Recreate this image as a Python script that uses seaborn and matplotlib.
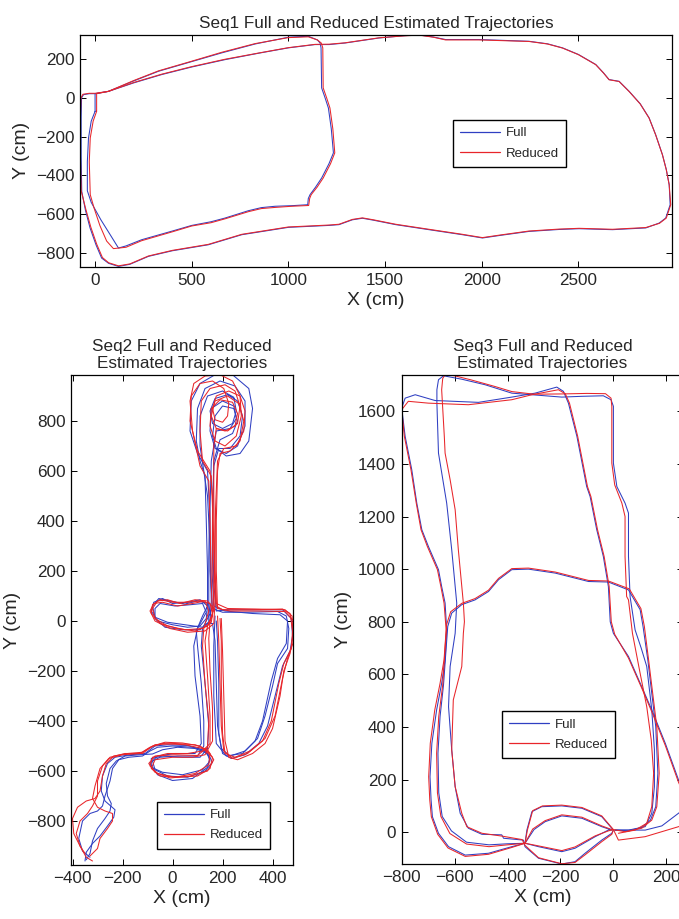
import pandas as pd
import seaborn as sns
import matplotlib.pyplot as plt
from matplotlib.lines import Line2D

# ---- data: trajectory waypoints (cm) ----
seq1_full_inner = [(0,-69),(0,22),(69,34),(200,88),(328,138),(500,188),(655,233),(828,279),(1000,314),(1103,319),(1150,300),(1164,284),(1169,259),(1172,52),(1190,0),(1207,-52),(1222,-160),(1233,-284),(1210,-340),(1172,-414),(1140,-462),(1112,-500),(1103,-520),(1100,-552),(1017,-557),(931,-560),(860,-567),(793,-583),(672,-621),(600,-640),(500,-659),(400,-688),(241,-733),(160,-765),(121,-776),(80,-710),(30,-630),(-20,-540),(-40,-480),(-40,-330),(-34,-207),(-20,-120),(0,-69)]
seq1_full_outer = [(69,34),(200,78),(345,121),(500,160),(672,198),(850,232),(1000,259),(1138,276),(1211,276),(1293,284),(1469,310),(1600,322),(1675,326),(1750,315),(1813,302),(1986,302),(2245,293),(2340,280),(2418,259),(2500,225),(2590,173),(2630,130),(2659,95),(2711,86),(2763,34),(2820,-30),(2866,-103),(2900,-190),(2935,-293),(2955,-370),(2970,-448),(2975,-552),(2952,-621),(2918,-647),(2849,-672),(2677,-681),(2504,-676),(2400,-680),(2245,-690),(2100,-710),(2004,-724),(1900,-707),(1727,-681),(1555,-655),(1440,-632),(1383,-622),(1331,-630),(1262,-655),(1211,-659),(1000,-669),(759,-707),(586,-759),(400,-790),(276,-819),(180,-860),(121,-871),(70,-855),(34,-828),(5,-760),(-26,-672),(-50,-580),(-69,-483),(-72,-300),(-72,-100),(-70,0),(-60,17),(-30,22),(0,22),(69,34)]
seq1_red_inner = [(8,-69),(8,22),(69,34),(200,90),(328,140),(500,190),(655,236),(828,281),(1000,312),(1103,316),(1150,300),(1170,284),(1178,259),(1180,52),(1198,0),(1215,-52),(1230,-160),(1240,-284),(1218,-340),(1180,-414),(1148,-462),(1118,-500),(1110,-520),(1105,-556),(1017,-560),(931,-566),(860,-572),(793,-588),(672,-625),(600,-645),(500,-662),(400,-692),(241,-738),(160,-772),(95,-779),(60,-740),(25,-660),(-5,-570),(-25,-500),(-30,-330),(-25,-207),(-10,-120),(8,-69)]
seq1_red_outer = [(69,34),(200,80),(345,123),(500,162),(672,200),(850,233),(1000,260),(1138,277),(1211,278),(1293,285),(1469,311),(1600,321),(1675,325),(1750,314),(1813,300),(1986,300),(2245,292),(2340,279),(2418,258),(2500,224),(2590,172),(2630,129),(2659,94),(2711,85),(2763,33),(2820,-31),(2866,-104),(2900,-191),(2935,-294),(2955,-371),(2970,-449),(2978,-552),(2955,-621),(2920,-648),(2849,-670),(2677,-679),(2504,-674),(2400,-678),(2245,-688),(2100,-708),(2004,-722),(1900,-705),(1727,-679),(1555,-653),(1440,-630),(1383,-620),(1331,-628),(1262,-653),(1211,-657),(1000,-667),(759,-705),(586,-757),(400,-788),(276,-817),(180,-858),(121,-868),(70,-852),(38,-825),(8,-755),(-22,-668),(-48,-575),(-72,-480),(-76,-300),(-76,-100),(-73,0),(-63,19),(-30,24),(0,24),(69,34)]

seq2_full_lap1 = [(-345,-955),(-330,-930),(-320,-880),(-300,-830),(-270,-790),(-250,-760),(-245,-730),(-260,-700),(-265,-650),(-250,-590),(-225,-560),(-190,-540),(-130,-535),(-80,-532),(-40,-515),(20,-505),(90,-510),(140,-530),(160,-565),(130,-600),(60,-625),(-20,-620),(-70,-595),(-80,-560),(-50,-545),(20,-540),(100,-540),(125,-500),(125,-400),(115,-250),(100,-100),(95,-40),(120,20),(140,60),(110,85),(60,75),(0,70),(-40,90),(-75,75),(-85,40),(-60,0),(0,-15),(60,-25),(110,-20),(135,10),(140,60),(140,200),(135,400),(130,580),(110,640),(95,720),(100,850),(130,930),(190,960),(250,940),(290,880),(290,780),(260,700),(215,670),(170,690),(150,760),(155,850),(200,880),(245,860),(255,810),(230,770),(175,760),(155,640),(150,450),(150,200),(160,50),(200,35),(300,35),(420,38),(455,20),(465,-30),(460,-110),(420,-170),(400,-260),(370,-380),(340,-470),(290,-520),(230,-540),(195,-510),(180,-420),(175,-250),(170,-80),(160,-10),(140,-10)]
seq2_full_lap2 = [(-330,-945),(-360,-920),(-375,-870),(-360,-800),(-330,-770),(-300,-760),(-280,-740),(-270,-700),(-250,-640),(-240,-590),(-215,-555),(-175,-545),(-120,-540),(-90,-520),(-60,-505),(0,-500),(80,-505),(135,-520),(150,-560),(120,-595),(40,-615),(-40,-605),(-85,-585),(-85,-550),(-40,-540),(40,-545),(110,-545),(140,-510),(145,-420),(130,-250),(115,-100),(120,-30),(150,30),(145,70),(100,80),(50,68),(-10,80),(-55,90),(-80,60),(-70,15),(-20,-5),(50,-15),(120,-25),(150,0),(155,80),(150,300),(140,500),(125,600),(110,700),(110,820),(140,900),(200,920),(245,895),(255,840),(240,790),(200,770),(160,790),(150,840),(170,890),(220,905),(260,880),(280,820),(270,740),(230,690),(185,690),(165,620),(160,400),(165,150),(175,40),(220,45),(330,45),(440,45),(475,10),(480,-60),(470,-120),(440,-180),(415,-280),(380,-420),(345,-490),(290,-535),(235,-550),(200,-530),(185,-450),(185,-250),(180,-80),(175,0)]
seq2_full_lap3 = [(-350,-960),(-345,-925),(-320,-890),(-290,-860),(-260,-820),(-235,-785),(-230,-755),(-270,-720),(-285,-680),(-280,-620),(-260,-570),(-230,-545),(-170,-535),(-110,-530),(-70,-500),(-20,-495),(60,-498),(120,-515),(150,-545),(140,-585),(80,-630),(0,-638),(-60,-615),(-90,-570),(-60,-540),(10,-530),(90,-530),(115,-490),(110,-380),(90,-220),(85,-100),(100,-30),(135,35),(120,70),(70,65),(10,60),(-50,70),(-70,50),(-70,10),(-30,-25),(40,-35),(110,-35),(145,-5),(145,60),(145,250),(148,450),(140,600),(100,670),(70,760),(75,880),(110,950),(170,985),(240,985),(305,930),(320,850),(305,720),(270,670),(215,660),(175,690),(160,740),(170,820),(200,860),(245,850),(260,800),(240,750),(190,725),(165,640),(160,420),(158,200),(165,60),(210,40),(320,30),(430,25),(460,0),(455,-90),(420,-150),(395,-240),(360,-400),(330,-480),(280,-530),(215,-540),(175,-490),(165,-300),(165,-100),(170,20)]
seq2_red_lap1 = [(-320,-960),(-345,-945),(-370,-900),(-395,-850),(-400,-790),(-380,-745),(-345,-720),(-310,-710),(-290,-680),(-280,-620),(-265,-570),(-235,-540),(-180,-530),(-120,-525),(-80,-500),(-30,-485),(40,-488),(110,-500),(150,-530),(145,-575),(90,-610),(10,-625),(-60,-610),(-90,-580),(-80,-545),(-20,-530),(60,-530),(120,-520),(150,-490),(150,-380),(140,-220),(130,-80),(140,-20),(160,30),(150,70),(110,80),(60,75),(0,75),(-50,85),(-80,65),(-85,30),(-50,-10),(20,-30),(90,-40),(140,-20),(160,20),(155,150),(150,400),(145,560),(110,620),(80,760),(70,880),(85,950),(130,980),(190,985),(240,960),(270,900),(275,820),(255,740),(210,700),(170,720),(150,780),(155,850),(190,885),(240,875),(260,830),(250,780),(210,760),(175,770),(165,700),(165,500),(168,250),(175,60),(200,45),(320,45),(440,48),(470,30),(480,-40),(475,-110),(445,-170),(425,-250),(395,-400),(360,-480),(300,-530),(240,-550),(205,-520),(195,-420),(190,-250),(185,-80),(180,20)]
seq2_red_lap2 = [(-330,-940),(-300,-910),(-290,-870),(-260,-830),(-240,-800),(-240,-770),(-270,-760),(-300,-745),(-320,-710),(-310,-660),(-290,-590),(-255,-550),(-200,-535),(-130,-530),(-90,-505),(-40,-490),(50,-495),(120,-510),(160,-545),(150,-590),(100,-620),(20,-625),(-50,-620),(-85,-590),(-70,-555),(0,-545),(80,-545),(130,-535),(160,-480),(160,-350),(150,-200),(145,-70),(150,0),(165,50),(140,80),(90,85),(30,70),(-20,85),(-60,80),(-80,50),(-70,10),(-20,-20),(50,-35),(120,-30),(155,-5),(165,60),(160,250),(160,450),(155,580),(120,640),(110,760),(115,880),(150,930),(210,945),(250,920),(270,860),(260,790),(220,760),(175,770),(155,820),(170,880),(220,900),(265,870),(285,800),(270,720),(230,680),(190,670),(180,600),(175,400),(175,200),(180,50),(230,40),(350,40),(450,38),(485,0),(485,-80),(460,-150),(440,-230),(410,-380),(370,-470),(310,-520),(250,-545),(210,-530),(200,-450),(195,-250),(195,-80),(190,10)]
seq2_red_lap3 = [(-350,-930),(-370,-900),(-385,-850),(-370,-800),(-340,-770),(-320,-740),(-300,-700),(-300,-640),(-280,-580),(-250,-545),(-190,-530),(-120,-530),(-100,-515),(-70,-495),(10,-490),(90,-495),(140,-515),(165,-555),(140,-600),(70,-620),(-10,-628),(-70,-605),(-95,-570),(-70,-540),(10,-535),(100,-538),(140,-505),(145,-400),(130,-250),(120,-100),(125,-30),(145,40),(130,80),(80,70),(20,60),(-40,75),(-75,70),(-90,40),(-70,0),(-10,-30),(60,-45),(130,-40),(165,-10),(170,80),(165,300),(160,500),(150,600),(100,680),(70,800),(75,900),(110,950),(160,960),(205,930),(225,870),(220,820),(200,795),(170,805),(160,850),(175,900),(225,920),(270,900),(290,840),(285,760),(255,700),(205,690),(180,640),(172,450),(170,200),(175,70),(220,50),(330,48),(450,45),(478,20),(482,-60),(470,-130),(445,-200),(430,-300),(400,-430),(370,-490),(320,-530),(260,-555),(225,-545),(210,-480),(205,-300),(200,-120),(195,10)]

seq3_full_s1 = [(309,59),(246,199),(196,338),(145,465),(107,553),(57,668),(0,756),(-12,800),(-19,934),(-38,1048),(-63,1150),(-88,1276),(-101,1314),(-138,1505),(-170,1631),(-189,1676),(-214,1692),(-296,1669),(-384,1654),(-510,1634),(-674,1641),(-749,1663),(-787,1650),(-800,1612),(-787,1505),(-762,1378),(-743,1251),(-724,1150),(-699,1086),(-661,998),(-649,934),(-636,871),(-630,769),(-636,655),(-649,566),(-668,465),(-686,338),(-693,211),(-689,123),(-684,59),(-661,-4),(-623,-55),(-560,-87),(-472,-80),(-384,-55),(-334,-42),(-327,8),(-308,78),(-271,97),(-195,100),(-119,91),(-44,59),(0,8),(57,8),(120,8),(183,24),(246,72),(309,123)]
seq3_full_s2 = [(0,8),(-6,-4),(-44,-30),(-107,-80),(-145,-112),(-195,-121),(-283,-99),(-334,-55),(-340,-30),(-415,-23),(-422,-10),(-497,-8),(-548,15),(-579,72),(-598,173),(-611,313),(-623,477),(-617,630),(-598,756),(-592,871),(-611,1074),(-630,1251),(-661,1441),(-667,1631),(-667,1682),(-661,1720),(-642,1735),(-573,1722),(-485,1701),(-384,1669),(-258,1659),(-195,1654),(-119,1657),(-38,1659),(-9,1644),(0,1619),(0,1403),(13,1314),(44,1251),(57,1213),(57,1048),(63,896),(82,769),(105,700),(126,630),(145,465),(155,313),(155,173),(145,72),(120,21),(57,8),(7,8)]
seq3_full_s3 = [(7,8),(57,5),(107,18),(140,46),(160,97),(168,224),(160,401),(130,655),(112,782),(101,846),(57,921),(-19,951),(-94,953),(-220,985),(-321,1000),(-384,998),(-434,960),(-472,915),(-523,883),(-573,865),(-611,833),(-626,782),(-632,700),(-642,560),(-655,440),(-663,300),(-660,150),(-647,60),(-612,5),(-555,-38),(-470,-48),(-400,-44),(-334,-42),(-300,10),(-258,40),(-195,62),(-119,53),(-44,21),(-6,8),(-19,8),(-69,-17),(-145,-61),(-195,-74),(-283,-55),(-334,-42)]
seq3_red_s1 = [(309,50),(246,190),(196,330),(145,458),(107,548),(57,662),(5,752),(-8,800),(-16,934),(-35,1048),(-60,1150),(-85,1276),(-98,1314),(-135,1505),(-166,1631),(-182,1667),(-208,1682),(-308,1663),(-384,1644),(-548,1625),(-699,1631),(-775,1638),(-800,1606),(-790,1505),(-765,1378),(-745,1251),(-727,1150),(-703,1086),(-665,998),(-652,934),(-640,871),(-632,769),(-640,655),(-655,566),(-675,465),(-692,338),(-698,211),(-694,123),(-688,59),(-664,-8),(-625,-60),(-560,-92),(-472,-84),(-384,-58),(-334,-42),(-325,8),(-305,82),(-268,100),(-195,103),(-119,94),(-44,62),(0,10),(19,-30),(120,-17),(246,21),(309,46)]
seq3_red_s2 = [(0,10),(-6,-8),(-44,-36),(-107,-86),(-145,-115),(-195,-120),(-283,-97),(-334,-50),(-345,-28),(-420,-15),(-497,-4),(-554,21),(-573,72),(-598,173),(-611,313),(-605,503),(-573,630),(-567,756),(-563,800),(-567,871),(-586,1074),(-598,1226),(-617,1340),(-636,1441),(-639,1505),(-649,1682),(-645,1725),(-636,1739),(-600,1735),(-540,1720),(-450,1695),(-384,1675),(-300,1665),(-195,1666),(-100,1668),(-30,1667),(-9,1650),(-6,1619),(-6,1403),(5,1320),(32,1251),(44,1200),(44,1048),(50,896),(57,883),(72,756),(101,604),(126,477),(143,351),(152,224),(145,97),(126,34),(82,8),(19,-4)]
seq3_red_s3 = [(0,10),(44,2),(107,15),(145,46),(164,97),(173,224),(164,401),(133,655),(117,782),(104,850),(60,925),(-19,955),(-94,957),(-220,989),(-321,1004),(-384,1002),(-434,965),(-472,920),(-523,888),(-573,870),(-615,838),(-630,790),(-636,700),(-645,560),(-660,440),(-668,300),(-665,150),(-652,60),(-618,-5),(-555,-45),(-470,-55),(-400,-48),(-334,-42),(-305,12),(-258,44),(-195,66),(-119,57),(-44,24),(-6,10),(0,10),(-19,5),(-69,-14),(-145,-56),(-195,-70),(-283,-52),(-334,-42)]

methods = ["Full", "Reduced"]
colors = {"Full": "#2f3fc2", "Reduced": "#e8252a"}

seq1_ticks_x = [0, 500, 1000, 1500, 2000, 2500]
seq1_ticks_y = [-800, -600, -400, -200, 0, 200]
seq2_ticks_x = [-400, -200, 0, 200, 400]
seq2_ticks_y = [-800, -600, -400, -200, 0, 200, 400, 600, 800]
seq3_ticks_x = [-800, -600, -400, -200, 0, 200]
seq3_ticks_y = [0, 200, 400, 600, 800, 1000, 1200, 1400, 1600]


def to_frame(segments):
    rows = []
    for method, segs in segments.items():
        for k, seg in enumerate(segs):
            for i, (x, y) in enumerate(seg):
                rows.append([method, f"{method}{k}", i, x, y])
    return pd.DataFrame(rows, columns=["method", "seg", "i", "x", "y"])


def draw(ax, df, xlim, ylim, xt, yt, title, legend_xy):
    sns.lineplot(data=df, x="x", y="y", hue="method", hue_order=methods,
                 units="seg", estimator=None, sort=False, palette=colors,
                 linewidth=0.75, legend=False, ax=ax)
    ax.set_xlim(*xlim)
    ax.set_ylim(*ylim)
    ax.set_xticks(xt)
    ax.set_yticks(yt)
    ax.set_xlabel("X (cm)", fontsize=14, labelpad=3)
    ax.set_ylabel("Y (cm)", fontsize=14, labelpad=4)
    ax.set_title(title, fontsize=12.3, pad=5)
    ax.tick_params(direction="in", bottom=True, left=True, top=True, right=True,
                   length=4, width=0.7, labelsize=12.3, pad=4, color="black")
    for s in ax.spines.values():
        s.set_color("black")
        s.set_linewidth(0.9)
        s.set_visible(True)
    handles = [Line2D([], [], color=colors[m], linewidth=0.9) for m in methods]
    leg = ax.legend(handles, methods, loc="upper left", bbox_to_anchor=legend_xy,
                    borderaxespad=0, frameon=True, fancybox=False, framealpha=1,
                    edgecolor="black", fontsize=9.5, handlelength=3.0,
                    handletextpad=0.45, labelspacing=0.6, borderpad=0.55)
    leg.get_frame().set_linewidth(1.0)


sns.set_theme(style="white")
plt.rcParams["font.family"] = ["Liberation Sans", "DejaVu Sans"]

W, H = 679, 919
fig = plt.figure(figsize=(W / 100, H / 100), dpi=100)
ax1 = fig.add_axes([80 / W, 1 - 267 / H, 591.7 / W, 232.3 / H])
ax2 = fig.add_axes([71 / W, 1 - 865 / H, 222.3 / W, 490 / H])
ax3 = fig.add_axes([401.7 / W, 1 - 864.3 / H, 281.3 / W, 489.3 / H])

df1 = to_frame({"Full": [seq1_full_inner, seq1_full_outer],
                "Reduced": [seq1_red_inner, seq1_red_outer]})
df2 = to_frame({"Full": [seq2_full_lap1, seq2_full_lap2, seq2_full_lap3],
                "Reduced": [seq2_red_lap1, seq2_red_lap2, seq2_red_lap3]})
df3 = to_frame({"Full": [seq3_full_s1, seq3_full_s2, seq3_full_s3],
                "Reduced": [seq3_red_s1, seq3_red_s2, seq3_red_s3]})

draw(ax1, df1, (-78, 2983), (-874, 327), seq1_ticks_x, seq1_ticks_y,
     "Seq1 Full and Reduced Estimated Trajectories", (0.630, 0.633))
draw(ax2, df2, (-406, 483), (-976, 984), seq2_ticks_x, seq2_ticks_y,
     "Seq2 Full and Reduced\nEstimated Trajectories", (0.387, 0.129))
draw(ax3, df3, (-800, 263), (-122, 1738), seq3_ticks_x, seq3_ticks_y,
     "Seq3 Full and Reduced\nEstimated Trajectories", (0.357, 0.313))

fig.savefig("out.png", dpi=100)
